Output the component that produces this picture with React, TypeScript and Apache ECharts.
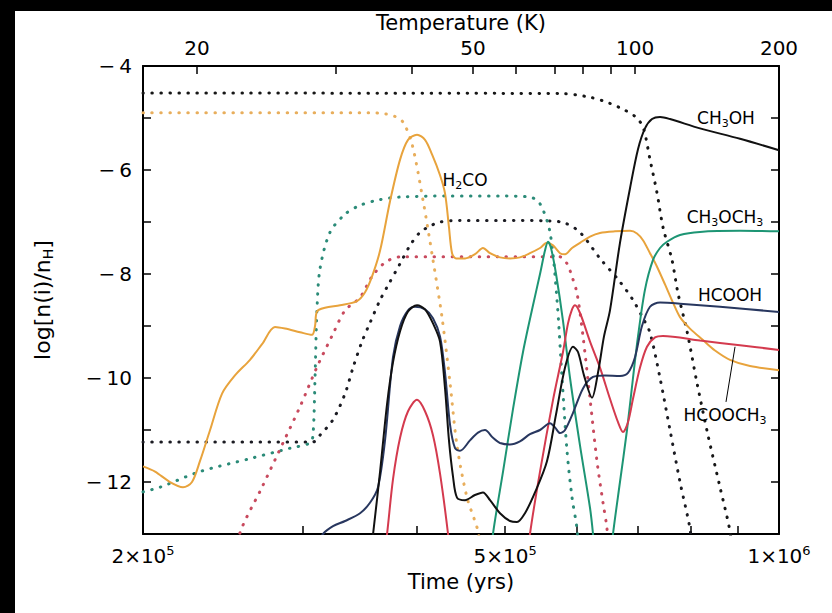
import React, { useEffect, useRef } from "react";
import * as echarts from "echarts";

// ---- axis data ----
const yMin = -13;
const yMax = -4;
const bottomTickTimes = [2e5, 3e5, 4e5, 5e5, 6e5, 7e5, 8e5, 9e5, 1e6];
const bottomLabelTimes = [2e5, 5e5, 1e6];
const bottomLabelMantissa = ["2", "5", "1"];
const bottomLabelExponent = ["5", "5", "6"];
const tempTicks = [20, 30, 40, 50, 60, 70, 80, 90, 100, 200];
const tempTickTimes = [2.293e5, 3.259e5, 3.95e5, 4.61e5, 5.14e5, 5.673e5, 6.089e5, 6.537e5, 6.947e5, 1e6];
const tempLabels = [20, 50, 100, 200];

// ---- series data (time in units of 1e5 yr, value = log abundance) ----
const ch3ohT = [3.552, 3.58, 3.644, 3.709, 3.765, 3.833, 3.911, 4.001, 4.083, 4.166, 4.241, 4.295, 4.338, 4.383, 4.427, 4.518, 4.633, 4.728, 4.813, 4.936, 5.063, 5.153, 5.258, 5.393, 5.559, 5.688, 5.819, 5.938, 6.013, 6.105, 6.23, 6.325, 6.422, 6.52, 6.687, 6.859, 6.999, 7.124, 7.252, 7.4, 7.589, 8.188, 9.06, 10.0];
const ch3ohV = [-13.5, -13.0, -11.8, -10.5, -9.7, -9.1, -8.72, -8.6, -8.68, -8.95, -9.3, -10.2, -11.2, -11.9, -12.3, -12.35, -12.25, -12.2, -12.35, -12.6, -12.75, -12.77, -12.6, -12.2, -11.6, -10.7, -9.8, -9.4, -9.5, -9.95, -10.38, -9.9, -9.2, -8.7, -7.4, -6.35, -5.6, -5.2, -5.02, -4.98, -5.02, -5.2, -5.4, -5.62];

const hcoohT = [3.114, 3.154, 3.235, 3.335, 3.464, 3.552, 3.625, 3.69, 3.765, 3.833, 3.911, 3.981, 4.083, 4.166, 4.241, 4.295, 4.35, 4.405, 4.461, 4.575, 4.669, 4.752, 4.849, 4.936, 5.063, 5.192, 5.325, 5.462, 5.602, 5.673, 5.745, 5.819, 5.938, 6.09, 6.246, 6.438, 6.687, 6.824, 6.946, 7.07, 7.215, 7.4, 7.784, 8.613, 10.0];
const hcoohV = [-13.2, -13.0, -12.85, -12.75, -12.6, -12.4, -12.1, -11.2, -9.6, -9.0, -8.7, -8.63, -8.68, -8.85, -9.2, -9.9, -10.9, -11.35, -11.4, -11.2, -11.05, -11.0, -11.15, -11.25, -11.28, -11.22, -11.08, -11.0, -10.87, -10.95, -11.06, -11.0, -10.67, -10.2, -9.98, -9.95, -9.96, -9.9, -9.6, -9.0, -8.63, -8.55, -8.57, -8.63, -8.73];

const hcooch3aT = [3.671, 3.709, 3.765, 3.833, 3.911, 4.001, 4.083, 4.166, 4.241, 4.328, 4.36];
const hcooch3aV = [-13.6, -13.0, -11.95, -11.15, -10.64, -10.42, -10.64, -11.1, -11.84, -13.0, -13.6];
const hcooch3bT = [5.285, 5.325, 5.462, 5.645, 5.789, 5.863, 5.923, 5.968, 6.044, 6.199, 6.357, 6.52, 6.654, 6.738, 6.824, 6.911, 7.035, 7.16, 7.307, 7.456, 8.188, 9.06, 10.0];
const hcooch3bV = [-13.6, -13.0, -11.8, -10.42, -9.5, -8.95, -8.68, -8.6, -8.75, -9.3, -9.8, -10.4, -10.85, -11.04, -10.85, -10.4, -9.8, -9.4, -9.22, -9.19, -9.28, -9.37, -9.46];

const ch3och3aT = [4.825, 4.849, 4.974, 5.101, 5.232, 5.366, 5.462, 5.531, 5.574, 5.616, 5.688, 5.789, 5.893, 6.044, 6.199, 6.246, 6.278];
const ch3och3aV = [-13.5, -13.0, -11.8, -10.6, -9.5, -8.6, -8.0, -7.55, -7.38, -7.5, -8.0, -8.9, -10.0, -11.3, -12.5, -13.0, -13.5];
const ch3och3bT = [6.52, 6.57, 6.687, 6.807, 6.911, 6.999, 7.124, 7.27, 7.4, 7.532, 7.784, 8.188, 9.06, 10.0];
const ch3och3bV = [-13.6, -13.0, -12.0, -11.0, -10.0, -9.2, -8.3, -7.73, -7.5, -7.38, -7.25, -7.19, -7.17, -7.18];

const h2coT = [2.0, 2.062, 2.141, 2.213, 2.264, 2.31, 2.37, 2.443, 2.524, 2.622, 2.703, 2.793, 2.865, 2.976, 3.067, 3.091, 3.106, 3.17, 3.293, 3.437, 3.508, 3.57, 3.644, 3.737, 3.833, 3.911, 4.001, 4.083, 4.156, 4.241, 4.295, 4.338, 4.372, 4.416, 4.518, 4.633, 4.728, 4.813, 4.936, 5.063, 5.192, 5.325, 5.462, 5.559, 5.645, 5.745, 5.819, 5.923, 6.044, 6.199, 6.357, 6.603, 6.859, 6.981, 7.088, 7.215, 7.344, 7.494, 7.647, 7.784, 7.983, 8.25, 8.505, 8.834, 9.292, 10.0];
const h2coV = [-11.7, -11.8, -12.0, -12.1, -12.0, -11.6, -11.0, -10.3, -9.95, -9.65, -9.35, -9.02, -9.05, -9.12, -9.17, -9.0, -8.72, -8.65, -8.6, -8.52, -8.35, -8.05, -7.55, -6.6, -5.8, -5.42, -5.32, -5.42, -5.7, -6.1, -6.45, -7.1, -7.6, -7.7, -7.7, -7.62, -7.5, -7.6, -7.68, -7.7, -7.68, -7.6, -7.5, -7.4, -7.45, -7.6, -7.62, -7.5, -7.4, -7.28, -7.21, -7.18, -7.17, -7.22, -7.35, -7.6, -7.86, -8.2, -8.55, -8.83, -9.05, -9.27, -9.47, -9.65, -9.77, -9.85];

const iceCh3ohT = [2.0, 5.745, 6.199, 6.52, 6.773, 6.946, 7.088, 7.215, 7.344, 7.456, 7.628, 7.744, 7.923, 8.127, 8.355, 8.613, 8.834, 8.901];
const iceCh3ohV = [-4.52, -4.53, -4.6, -4.72, -4.85, -4.97, -5.17, -5.8, -6.44, -7.1, -7.73, -8.37, -9.1, -10.1, -11.1, -12.1, -12.95, -13.5];

const iceBlackT = [2.0, 3.075, 3.13, 3.235, 3.335, 3.403, 3.481, 3.552, 3.644, 3.709, 3.833, 3.931, 4.031, 4.135, 4.241, 4.461, 4.936, 5.602, 5.819, 6.044, 6.357, 6.687, 6.911, 7.088, 7.215, 7.4, 7.589, 7.784, 7.983, 8.045];
const iceBlackV = [-11.23, -11.23, -11.1, -10.8, -10.3, -9.8, -9.3, -8.94, -8.5, -8.25, -7.8, -7.45, -7.2, -7.08, -7.0, -6.97, -6.97, -6.98, -7.02, -7.2, -7.7, -8.15, -8.5, -8.85, -9.13, -10.0, -11.0, -12.0, -12.9, -13.5];

const iceH2coT = [2.0, 3.552, 3.69, 3.784, 3.862, 3.951, 4.062, 4.166, 4.262, 4.35, 4.427, 4.541, 4.669, 4.704];
const iceH2coV = [-4.9, -4.9, -4.92, -4.97, -5.08, -5.5, -6.58, -7.73, -8.83, -10.1, -11.3, -12.3, -12.95, -13.5];

const iceGreenT = [2.0, 2.088, 2.31, 2.622, 2.901, 3.052, 3.075, 3.091, 3.106, 3.13, 3.21, 3.335, 3.464, 3.644, 3.833, 4.35, 4.936, 5.325, 5.462, 5.602, 5.702, 5.775, 5.848, 5.923, 5.998, 6.028];
const iceGreenV = [-12.19, -12.1, -11.8, -11.55, -11.35, -11.25, -11.1, -10.0, -8.7, -7.9, -7.2, -6.85, -6.68, -6.57, -6.52, -6.5, -6.5, -6.52, -6.65, -7.2, -8.5, -10.0, -11.4, -12.3, -12.9, -13.5];

const iceRedT = [2.537, 2.556, 2.703, 2.85, 2.976, 3.106, 3.235, 3.335, 3.464, 3.57, 3.69, 3.833, 4.936, 5.745, 5.848, 5.923, 5.998, 6.09, 6.199, 6.309, 6.406, 6.471, 6.504];
const iceRedV = [-13.5, -12.98, -12.1, -11.25, -10.55, -9.79, -9.15, -8.7, -8.45, -8.05, -7.78, -7.67, -7.67, -7.67, -7.8, -8.05, -8.37, -9.2, -10.4, -11.6, -12.4, -12.9, -13.5];

// ---- annotations (time in 1e5 yr, value) ----
const annotations = [
  { text: "{n|CH}{s|3}{n|OH}", t: 8.745, v: -5.0 },
  { text: "{n|CH}{s|3}{n|OCH}{s|3}", t: 8.723, v: -6.9 },
  { text: "{n|HCOOH}", t: 8.834, v: -8.4 },
  { text: "{n|H}{s|2}{n|CO}", t: 4.518, v: -6.19 },
  { text: "{n|HCOOCH}{s|3}", t: 8.723, v: -10.71 },
];
const leaderStart = [8.745, -10.46];
const leaderEnd = [8.947, -9.4];

const FONT = "DejaVu Sans";

const lg = (t: number) => Math.log10(t);
const pts = (times: number[], vals: number[]) => times.map((t, i) => [lg(t * 1e5), vals[i]]);

const nearest = (arr: number[], v: number) => {
  let best = 0;
  let bd = Infinity;
  arr.forEach((a, i) => {
    const d = Math.abs(lg(a) - v);
    if (d < bd) {
      bd = d;
      best = i;
    }
  });
  return best;
};

function solid(name: string, t: number[], v: number[], color: string) {
  return {
    name,
    type: "line",
    data: pts(t, v),
    showSymbol: false,
    smooth: 0.3,
    clip: true,
    z: 3,
    lineStyle: { color, width: 2 },
  };
}
function dotted(name: string, t: number[], v: number[], color: string) {
  return {
    name,
    type: "line",
    data: pts(t, v),
    showSymbol: false,
    smooth: 0.3,
    clip: true,
    z: 2,
    lineStyle: { color, width: 3, type: [0.5, 8.5], cap: "round" },
  };
}

export default function App() {
  const ref = useRef<HTMLDivElement>(null);
  useEffect(() => {
    document.documentElement.style.margin = "0";
    document.documentElement.style.overflow = "hidden";
    document.body.style.margin = "0";
    document.body.style.overflow = "hidden";
    document.body.style.background = "#fff";
    const chart = echarts.init(ref.current!, null, { renderer: "svg" });
    const xMin = lg(2e5);
    const xMax = lg(1e6);
    const axisLineStyle = { color: "#000", width: 2 };
    const tickStyle = { color: "#000", width: 1.5 };

    const labelRich = {
      n: { fontSize: 17, fontFamily: FONT, color: "#000", lineHeight: 22, verticalAlign: "middle" },
      s: { fontSize: 11, fontFamily: FONT, color: "#000", lineHeight: 12, verticalAlign: "bottom" },
    };

    const annotSeries = {
      name: "labels",
      type: "line",
      data: [],
      markPoint: {
        symbol: "circle",
        symbolSize: 1,
        itemStyle: { color: "rgba(0,0,0,0)" },
        silent: true,
        data: annotations.map((a) => ({
          coord: [lg(a.t * 1e5), a.v],
          label: { show: true, position: "inside", formatter: a.text, rich: labelRich },
        })),
      },
      markLine: {
        silent: true,
        symbol: ["none", "none"],
        lineStyle: { color: "#000", width: 1, type: "solid" },
        label: { show: false },
        data: [
          [
            { coord: [lg(leaderStart[0] * 1e5), leaderStart[1]] },
            { coord: [lg(leaderEnd[0] * 1e5), leaderEnd[1]] },
          ],
        ],
      },
    };

    chart.setOption({
      animation: false,
      backgroundColor: "#fff",
      textStyle: { fontFamily: FONT },
      graphic: [
        { type: "rect", shape: { x: 0, y: 0, width: 832, height: 11 }, style: { fill: "#000" }, silent: true },
        { type: "rect", shape: { x: 0, y: 0, width: 15, height: 613 }, style: { fill: "#000" }, silent: true },
      ],
      grid: { left: 143, right: 53, top: 66, bottom: 79, outerBoundsMode: "none" },
      xAxis: [
        {
          type: "value",
          position: "bottom",
          min: xMin,
          max: xMax,
          name: "Time (yrs)",
          nameLocation: "middle",
          nameGap: 37,
          nameTextStyle: { fontSize: 21, color: "#000", fontFamily: FONT },
          axisLine: { show: true, onZero: false, lineStyle: axisLineStyle },
          axisTick: { show: true, inside: true, length: 8, lineStyle: tickStyle, customValues: bottomTickTimes.map(lg) },
          axisLabel: {
            customValues: bottomLabelTimes.map(lg),
            margin: 10,
            formatter: (v: number) => {
              const i = nearest(bottomLabelTimes, v);
              return `{m|${bottomLabelMantissa[i]}×10}{e|${bottomLabelExponent[i]}}`;
            },
            rich: {
              m: { fontSize: 20, fontFamily: FONT, color: "#000", lineHeight: 24, verticalAlign: "middle" },
              e: { fontSize: 13, fontFamily: FONT, color: "#000", lineHeight: 14, verticalAlign: "top" },
            },
          },
          splitLine: { show: false },
        },
        {
          type: "value",
          position: "top",
          min: xMin,
          max: xMax,
          name: "Temperature (K)",
          nameLocation: "middle",
          nameGap: 33,
          nameTextStyle: { fontSize: 21, color: "#000", fontFamily: FONT },
          axisLine: { show: true, onZero: false, lineStyle: axisLineStyle },
          axisTick: { show: true, inside: true, length: 8, lineStyle: tickStyle, customValues: tempTickTimes.map(lg) },
          axisLabel: {
            customValues: tempLabels.map((T) => lg(tempTickTimes[tempTicks.indexOf(T)])),
            margin: 8,
            fontSize: 20,
            color: "#000",
            fontFamily: FONT,
            formatter: (v: number) => String(tempTicks[nearest(tempTickTimes, v)]),
          },
          splitLine: { show: false },
        },
      ],
      yAxis: [
        {
          type: "value",
          position: "left",
          min: yMin,
          max: yMax,
          interval: 1,
          name: "{a|log[n(i)/n}{b|H}{a|]}",
          nameLocation: "middle",
          nameGap: 88,
          nameRotate: 90,
          nameTextStyle: {
            rich: {
              a: { fontSize: 22, fontFamily: FONT, color: "#000", lineHeight: 26, verticalAlign: "middle" },
              b: { fontSize: 14, fontFamily: FONT, color: "#000", lineHeight: 13, verticalAlign: "bottom" },
            },
          },
          axisLine: { show: true, onZero: false, lineStyle: axisLineStyle },
          axisTick: { show: true, inside: true, length: 8, lineStyle: tickStyle },
          axisLabel: {
            margin: 11,
            fontSize: 20,
            color: "#000",
            fontFamily: FONT,
            formatter: (v: number) => (Math.round(v) % 2 === 0 ? "\u2212\u2009" + Math.abs(v) : ""),
          },
          splitLine: { show: false },
        },
        {
          type: "value",
          position: "right",
          min: yMin,
          max: yMax,
          interval: 1,
          axisLine: { show: true, onZero: false, lineStyle: axisLineStyle },
          axisTick: { show: true, inside: true, length: 8, lineStyle: tickStyle },
          axisLabel: { show: false },
          splitLine: { show: false },
        },
      ],
      series: [
        dotted("CH3OH ice", iceCh3ohT, iceCh3ohV, "#161616"),
        dotted("black ice", iceBlackT, iceBlackV, "#1b1b22"),
        dotted("H2CO ice", iceH2coT, iceH2coV, "#E8AE5C"),
        dotted("CH3OCH3 ice", iceGreenT, iceGreenV, "#2B8B78"),
        dotted("HCOOCH3 ice", iceRedT, iceRedV, "#C84A5E"),
        solid("H2CO", h2coT, h2coV, "#E8A33C"),
        solid("CH3OCH3 a", ch3och3aT, ch3och3aV, "#1D9574"),
        solid("CH3OCH3 b", ch3och3bT, ch3och3bV, "#1D9574"),
        solid("HCOOCH3 a", hcooch3aT, hcooch3aV, "#D43A4E"),
        solid("HCOOCH3 b", hcooch3bT, hcooch3bV, "#D43A4E"),
        solid("HCOOH", hcoohT, hcoohV, "#28375F"),
        solid("CH3OH", ch3ohT, ch3ohV, "#111111"),
        annotSeries,
      ],
    });
    return () => chart.dispose();
  }, []);
  return (
    <div
      ref={ref}
      style={{ position: "fixed", left: 0, top: 0, width: 832, height: 613, background: "#fff" }}
    />
  );
}
